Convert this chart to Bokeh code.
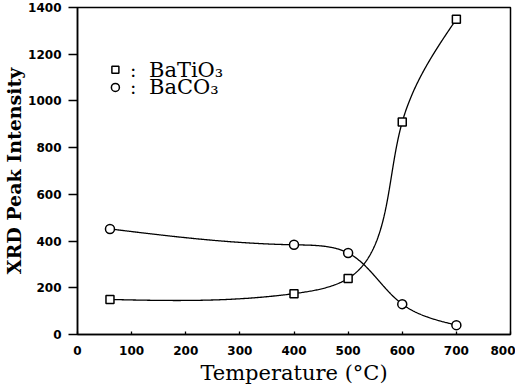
import numpy as np
from bokeh.plotting import figure
from bokeh.models import Range1d, SingleIntervalTicker
from bokeh.core.properties import value
from bokeh.embed import file_html
from bokeh.resources import INLINE

# ---- data ----
temps = [60, 400, 500, 600, 700]
batio3 = [150, 175, 240, 910, 1350]
baco3 = [452, 384, 349, 130, 40]
series_names = ["BaTiO\u2083", "BaCO\u2083"]

X_MAX, Y_MAX = 800, 1400
FRAME_W, FRAME_H = 436, 327


def natural_spline(xs, ys, xq):
    xs = np.asarray(xs, float)
    ys = np.asarray(ys, float)
    n = len(xs)
    h = np.diff(xs)
    A = np.zeros((n, n))
    b = np.zeros(n)
    A[0, 0] = 1
    A[-1, -1] = 1
    for i in range(1, n - 1):
        A[i, i - 1] = h[i - 1]
        A[i, i] = 2 * (h[i - 1] + h[i])
        A[i, i + 1] = h[i]
        b[i] = 6 * ((ys[i + 1] - ys[i]) / h[i] - (ys[i] - ys[i - 1]) / h[i - 1])
    M = np.linalg.solve(A, b)
    out = np.empty_like(xq)
    for k, x in enumerate(xq):
        i = min(max(np.searchsorted(xs, x) - 1, 0), n - 2)
        t0 = xs[i + 1] - x
        t1 = x - xs[i]
        out[k] = (M[i] * t0 ** 3 + M[i + 1] * t1 ** 3) / (6 * h[i]) \
            + (ys[i] / h[i] - M[i] * h[i] / 6) * t0 \
            + (ys[i + 1] / h[i] - M[i + 1] * h[i] / 6) * t1
    return out


def smooth_curve(xs, ys, n=500):
    # parametric natural spline, chord-length parameter in screen proportions
    sx = np.asarray(xs, float) * FRAME_W / X_MAX
    sy = np.asarray(ys, float) * FRAME_H / Y_MAX
    t = np.concatenate([[0], np.cumsum(np.hypot(np.diff(sx), np.diff(sy)))])
    tq = np.linspace(0, t[-1], n)
    return natural_spline(t, xs, tq), natural_spline(t, ys, tq)


p = figure(width=515, height=388, output_backend="svg", toolbar_location=None,
           x_range=Range1d(0, X_MAX), y_range=Range1d(0, Y_MAX),
           min_border_left=74, min_border_right=5, min_border_top=7,
           min_border_bottom=54)
p.grid.visible = False
p.outline_line_color = "black"
p.outline_line_width = 1.5
p.background_fill_color = "white"
p.border_fill_color = "white"

for ys in (batio3, baco3):
    cx, cy = smooth_curve(temps, ys)
    p.line(cx, cy, line_color="black", line_width=1.3)
p.scatter(temps, batio3, marker="square", size=8, fill_color="white",
          line_color="black", line_width=1.5)
p.scatter(temps, baco3, marker="circle", size=9, fill_color="white",
          line_color="black", line_width=1.5)

# legend (manual, as in the original)
leg_x = 70
leg_y = [1134, 1058]
p.scatter([leg_x], [leg_y[0]], marker="square", size=7, fill_color="white",
          line_color="black", line_width=1.5)
p.scatter([leg_x], [leg_y[1]], marker="circle", size=8, fill_color="white",
          line_color="black", line_width=1.5)
p.text([103, 103], leg_y, text=[":", ":"], text_font=value("DejaVu Serif"),
       text_font_size="19px", text_baseline="middle", text_align="center")
p.text([132, 132], leg_y, text=series_names, text_font=value("DejaVu Serif"),
       text_font_size="21px", text_baseline="middle", text_align="left")

p.xaxis.ticker = SingleIntervalTicker(interval=100)
p.yaxis.ticker = SingleIntervalTicker(interval=200)
for ax in (p.xaxis, p.yaxis):
    ax.axis_line_width = 1.5
    ax.major_tick_line_width = 1.3
    ax.minor_tick_line_color = None
    ax.major_label_text_font = "DejaVu Sans"
    ax.major_label_text_font_style = "bold"
    ax.major_label_text_font_size = "12px"
    ax.major_label_text_color = "black"
    ax.axis_label_text_color = "black"

p.xaxis.major_tick_in = 3
p.xaxis.major_tick_out = 0
p.xaxis.major_label_standoff = 7
p.xaxis.axis_label = "Temperature (\u00b0C)"
p.xaxis.axis_label_text_font = "DejaVu Serif"
p.xaxis.axis_label_text_font_style = "normal"
p.xaxis.axis_label_text_font_size = "21px"
p.xaxis.axis_label_standoff = 3

p.yaxis.major_tick_in = 0
p.yaxis.major_tick_out = 9
p.yaxis.major_label_standoff = 7
p.yaxis.axis_label = "XRD Peak Intensity"
p.yaxis.axis_label_text_font = "DejaVu Serif"
p.yaxis.axis_label_text_font_style = "bold"
p.yaxis.axis_label_text_font_size = "19px"
p.yaxis.axis_label_standoff = 0

open("out.html", "w").write(file_html(p, INLINE))
